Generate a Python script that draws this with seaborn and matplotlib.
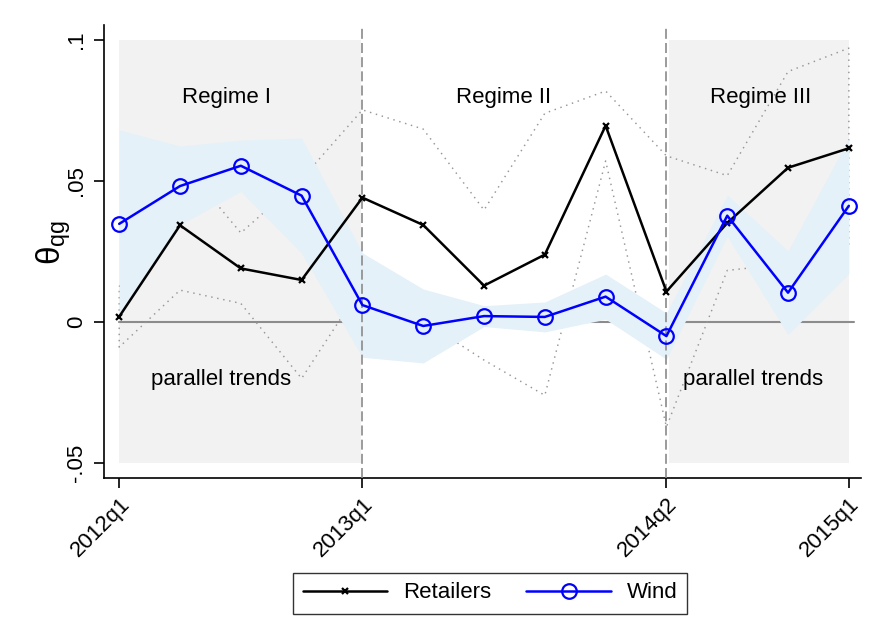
import numpy as np
import pandas as pd
import matplotlib
matplotlib.use("Agg")
import matplotlib.pyplot as plt
from matplotlib.lines import Line2D
import seaborn as sns

# Quarterly periods, 2012q1 .. 2015q1
quarters = ["2012q1", "2012q2", "2012q3", "2012q4",
            "2013q1", "2013q2", "2013q3", "2013q4",
            "2014q1", "2014q2", "2014q3", "2014q4", "2015q1"]
tick_labels = ["2012q1", "2013q1", "2014q2", "2015q1"]

# Retailers: point estimates and confidence bounds
retail = [0.0019, 0.0343, 0.0190, 0.0149, 0.0441, 0.0344, 0.0129,
          0.0239, 0.0696, 0.0108, 0.0351, 0.0547, 0.0616]
retail_hi = [0.0125, 0.0574, 0.0316, 0.0507, 0.0752, 0.0684, 0.0397,
             0.0740, 0.0819, 0.0589, 0.0519, 0.0888, 0.0971]
retail_lo = [-0.0089, 0.0113, 0.0066, -0.0200, 0.0130, 0.0004, -0.0135,
             -0.0260, 0.0571, -0.0372, 0.0183, 0.0206, 0.0261]

# Wind: point estimates and confidence bounds
wind = [0.0348, 0.0482, 0.0554, 0.0448, 0.0060, -0.0014, 0.0021,
        0.0018, 0.0090, -0.0050, 0.0377, 0.0104, 0.0412]
wind_hi = [0.0681, 0.0624, 0.0645, 0.0652, 0.0245, 0.0117, 0.0058,
           0.0071, 0.0170, 0.0032, 0.0450, 0.0252, 0.0652]
wind_lo = [0.0015, 0.0345, 0.0463, 0.0244, -0.0125, -0.0145, -0.0016,
           -0.0035, 0.0010, -0.0132, 0.0304, -0.0044, 0.0172]

regime_names = ["Regime I", "Regime II", "Regime III"]

sns.set_theme(style="white")
plt.rcParams["font.family"] = ["Liberation Sans", "DejaVu Sans"]
plt.rcParams["text.color"] = "black"
plt.rcParams["xtick.color"] = "black"
plt.rcParams["ytick.color"] = "black"
plt.rcParams["axes.labelcolor"] = "black"
plt.rcParams["mathtext.fontset"] = "custom"
plt.rcParams["mathtext.rm"] = "Liberation Sans"
plt.rcParams["mathtext.it"] = "Liberation Sans"
plt.rcParams["mathtext.bf"] = "Liberation Sans:bold"

t = np.arange(len(quarters))
df = pd.DataFrame({"t": t, "quarter": quarters,
                   "Retailers": retail, "Wind": wind})

fig = plt.figure(figsize=(8.78, 6.42), dpi=100)
ax = fig.add_axes([104 / 878, 1 - 478 / 642, (861 - 104) / 878, (478 - 25) / 642])

# Shaded regime boxes
ax.fill_between([0, 3.97], -0.05, 0.1, color="#f2f2f2", lw=0, zorder=0)
ax.fill_between([9.05, 12], -0.05, 0.1, color="#f2f2f2", lw=0, zorder=0)

# Zero reference line
ax.plot([0, 12.08], [0, 0], color="#8c8c8c", lw=1.5, zorder=1)

# Retailers confidence region outline (dotted)
poly_x = np.concatenate([t, t[::-1], [t[0]]])
poly_y = np.concatenate([retail_hi, retail_lo[::-1], [retail_hi[0]]])
ax.plot(poly_x, poly_y, color="#979797", lw=1.05, ls=(0, (1, 3.2)), zorder=2)

# Wind confidence band
ax.fill_between(t, wind_lo, wind_hi, color="#e4f1f8", lw=0, zorder=3)

# Regime boundaries
for xv in (4, 9):
    ax.axvline(xv, color="#8a8a8a", lw=1.2, ls=(0, (6, 2.5)), zorder=4)

# Point estimate series
sns.lineplot(data=df, x="t", y="Retailers", ax=ax, color="black", lw=1.8,
             marker="x", markersize=5, markeredgewidth=1.6,
             markeredgecolor="black", zorder=6)
sns.lineplot(data=df, x="t", y="Wind", ax=ax, color="#0000ff", lw=1.8,
             marker="o", markersize=10.5, markerfacecolor="none",
             markeredgecolor="#0000ff", markeredgewidth=1.6, zorder=7)

# Regime annotations
txt = dict(fontsize=16, ha="center", va="center", color="black", zorder=8)
ax.text(1.76, 0.0797, regime_names[0], **txt)
ax.text(6.32, 0.0797, regime_names[1], **txt)
ax.text(10.55, 0.0797, regime_names[2], **txt)
ax.text(1.68, -0.0203, "parallel trends", **txt)
ax.text(10.42, -0.0203, "parallel trends", **txt)

# Axes
ax.set_xlim(-0.25, 12.2)
ax.set_ylim(-0.0553, 0.1053)
ax.set_xticks([quarters.index(q) for q in tick_labels])
ax.set_xticklabels(tick_labels, rotation=45, ha="right",
                   rotation_mode="anchor", fontsize=16, color="black")
ax.set_yticks([-0.05, 0, 0.05, 0.1])
ax.set_yticklabels(["-.05", "0", ".05", ".1"], rotation=90, va="center",
                   fontsize=16, color="black")
ax.set_xlabel("")
ax.set_ylabel(r"$\theta_{\mathrm{qg}}$", fontsize=24, color="black")
ax.yaxis.set_label_coords(-0.041, 0.52)

for side in ("top", "right"):
    ax.spines[side].set_visible(False)
for side in ("left", "bottom"):
    ax.spines[side].set_color("black")
    ax.spines[side].set_linewidth(1.2)
ax.tick_params(axis="both", direction="out", length=7, width=1.2,
               color="black", left=True, bottom=True)
ax.tick_params(axis="y", pad=5)
ax.tick_params(axis="x", pad=4)
ax.set_facecolor("white")

handles = [
    Line2D([], [], color="black", lw=1.8, marker="x", markersize=5,
           markeredgewidth=1.6),
    Line2D([], [], color="#0000ff", lw=1.8, marker="o", markersize=10.5,
           markerfacecolor="none", markeredgewidth=1.6),
]
leg = fig.legend(handles, ["Retailers", "Wind"], loc="center",
                 bbox_to_anchor=(490 / 878, 1 - 593 / 642), ncol=2,
                 fontsize=16, frameon=True, fancybox=False,
                 handlelength=3.8, columnspacing=1.6, handletextpad=0.7,
                 borderpad=0.45, edgecolor="black")
leg.get_frame().set_linewidth(1.0)
for txt_item in leg.get_texts():
    txt_item.set_color("black")

fig.savefig("out.png", dpi=100, facecolor="white")
